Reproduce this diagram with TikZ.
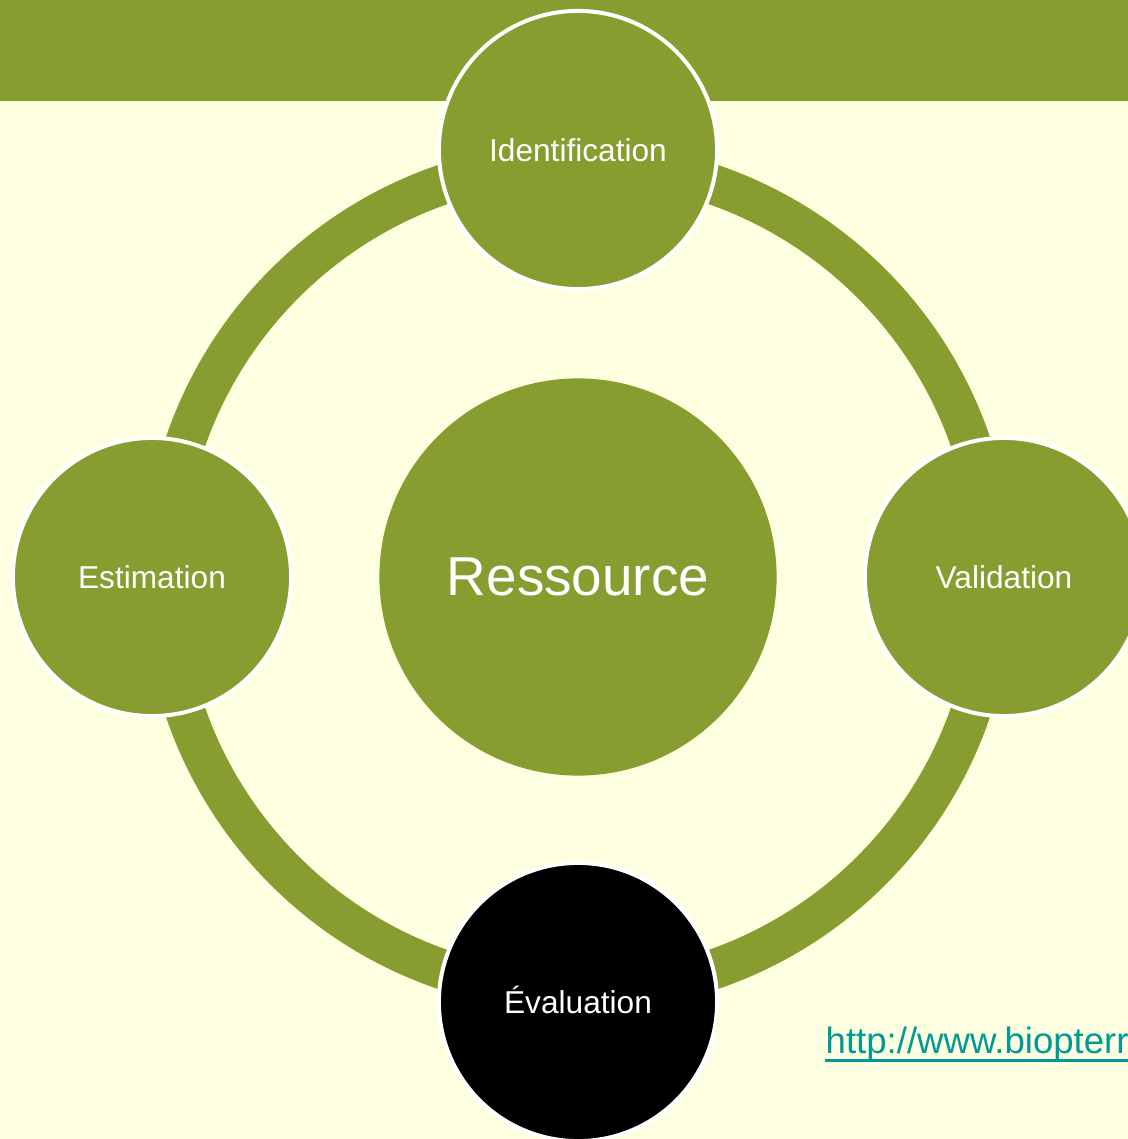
\documentclass[tikz,border=0pt]{standalone}
\usepackage{fontspec}
\setmainfont{Liberation Sans}
\usetikzlibrary{positioning}
\definecolor{leaf}{HTML}{879D2F}
\definecolor{paper}{HTML}{FEFEE0}
\definecolor{linkteal}{HTML}{009A97}

\begin{document}
\begin{tikzpicture}[x=0.01cm, y=-0.01cm,
      stage/.style={circle, fill=leaf, draw=white, line width=0.04cm,
        minimum size=2.78cm, inner sep=0pt, text=white,
        text height=0.23cm, text depth=0cm,
        font=\fontsize{9}{11}\selectfont},
      hubnode/.style={circle, fill=leaf, minimum size=3.97cm, inner sep=0pt,
        text=white, font=\fontsize{15.6}{18}\selectfont},
      ring/.style={leaf, line width=0.4cm},
      link_text/.style={text=linkteal, inner sep=0pt, font=\fontsize{10.4}{12}\selectfont}
  ]

  % Page frame and background
  \clip (0,0) rectangle (1128,1139);
  \fill[paper] (0,0) rectangle (1128,1139);
  \fill[leaf] (0,0) rectangle (1128,101);

  % Centre of the cycle
  \coordinate (hub) at (578,577);

  % Draw the ring
  \draw[ring] (hub) circle[radius=415];

  % Draw the circles
  \node[hubnode] (ressource) at (hub) {Ressource};
  \node[stage] (identification) at (578,150) {Identification};
  \node[stage] (estimation) at (152,577) {Estimation};
  \node[stage] (validation) at (1004,577) {Validation};
  \node[stage, fill=black] (evaluation) at (578,1002) {Évaluation};

  % Source link, underlined
  \node[link_text, anchor=base west] (source) at (825,1053) {http://www.biopterre};
  \draw[linkteal, line width=0.03cm] ([yshift=-0.07cm]source.base west) -- ([yshift=-0.07cm]source.base east);

  \end{tikzpicture}
\end{document}
